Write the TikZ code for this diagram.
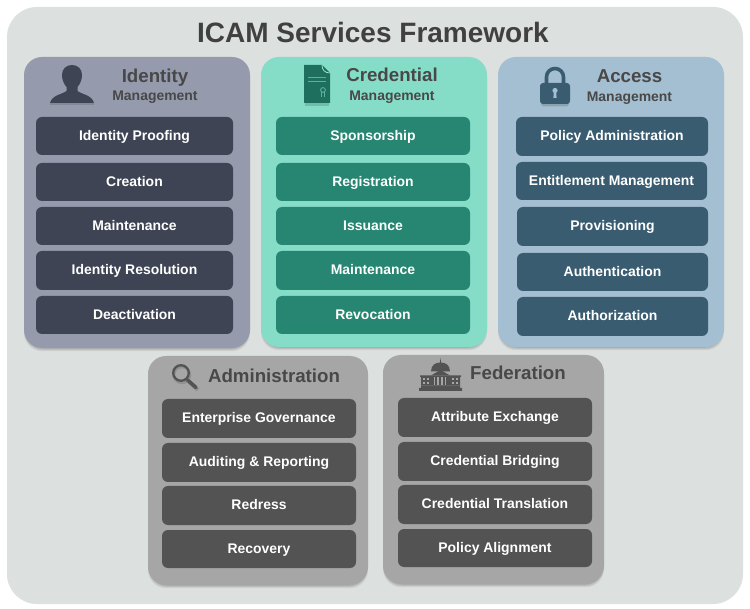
\documentclass[tikz,border=0pt]{standalone}
\usepackage{fontspec}
\setmainfont{Liberation Sans}
\definecolor{bgc}{HTML}{DCE0DF}
\definecolor{idp}{HTML}{959BAD}\definecolor{idb}{HTML}{3E4453}
\definecolor{crp}{HTML}{85DDC8}\definecolor{crb}{HTML}{268672}\definecolor{cri}{HTML}{1F6F5E}
\definecolor{acp}{HTML}{A4BFD1}\definecolor{acb}{HTML}{395C70}
\definecolor{grp}{HTML}{A6A6A6}\definecolor{grb}{HTML}{535353}
\definecolor{ttl}{HTML}{404040}\definecolor{hdg}{HTML}{484848}
\tikzset{
  x=1pt,y=-1pt,
  itembox/.style={rounded corners=6pt,draw=none,text=white,align=center,inner sep=0pt,anchor=base,
    font=\fontsize{13.95}{16}\selectfont\bfseries},
  panelbox/.style={rounded corners=18pt,draw=none,inner sep=0pt},
  headbig/.style={text=hdg,font=\fontsize{18.7}{21}\selectfont\bfseries,inner sep=0pt,anchor=base},
  headsmall/.style={text=hdg,font=\fontsize{13.95}{16}\selectfont\bfseries,inner sep=0pt,anchor=base},
}
\newcommand{\softshadow}[4]{%
  \foreach \k in {1,2,3,4}{%
    \fill[black,opacity=0.06,rounded corners=18pt] (#1+2-\k*0.5,#2+3) rectangle (#3-2+\k*0.5,#4+\k*0.8);}}
\newcommand{\panelnode}[6]{%
  \softshadow{#2}{#3}{#4}{#5}%
  \path[panelbox,fill=#6] (#2,#3) rectangle (#4,#5);
  \coordinate (#1) at ({(#2+#4)/2},{(#3+#5)/2});}
\newcommand{\itemnode}[7]{%
  \fill[itembox,fill=#6] (#2,#3) rectangle (#4,#5);
  \node[itembox] (#1) at ({(#2+#4)/2},{(#3+#5)/2+4.4}) {#7};}
\begin{document}
\begin{tikzpicture}
\useasboundingbox (0,0) rectangle (750,609);
\fill[white] (0,0) rectangle (750,609);
\fill[bgc,rounded corners=30pt] (7,7) rectangle (743,604);
\node[text=ttl,inner sep=0pt,anchor=base,font=\fontsize{28}{32}\selectfont\bfseries] (title) at (373,42.5) {ICAM Services Framework};

% Identity
\panelnode{pid}{24}{57}{250}{348}{idp}
\node[headbig] (hid) at (155,82.5) {Identity};
\node[headsmall] (hid2) at (155,100.6) {Management};
\itemnode{i1}{36}{117}{233}{155}{idb}{Identity Proofing}
\itemnode{i2}{36}{163}{233}{201}{idb}{Creation}
\itemnode{i3}{36}{207}{233}{245}{idb}{Maintenance}
\itemnode{i4}{36}{251}{233}{290}{idb}{Identity Resolution}
\itemnode{i5}{36}{296}{233}{334}{idb}{Deactivation}

% Credential
\panelnode{pcr}{261}{57}{487}{347}{crp}
\node[headbig] (hcr) at (392,82) {Credential};
\node[headsmall] (hcr2) at (392,100.6) {Management};
\itemnode{c1}{276}{117}{470}{155}{crb}{Sponsorship}
\itemnode{c2}{276}{163}{470}{201}{crb}{Registration}
\itemnode{c3}{276}{207}{470}{245}{crb}{Issuance}
\itemnode{c4}{276}{251}{470}{290}{crb}{Maintenance}
\itemnode{c5}{276}{296}{470}{334}{crb}{Revocation}

% Access
\panelnode{pac}{498}{57}{724}{347}{acp}
\node[headbig] (hac) at (629.5,83) {Access};
\node[headsmall] (hac2) at (629.5,101.6) {Management};
\itemnode{a1}{516}{117}{708}{156}{acb}{Policy Administration}
\itemnode{a2}{516}{162}{707}{200}{acb}{Entitlement Management}
\itemnode{a3}{517}{207}{708}{246}{acb}{Provisioning}
\itemnode{a4}{517}{253}{708}{291}{acb}{Authentication}
\itemnode{a5}{517}{297}{708}{336}{acb}{Authorization}

% Administration
\panelnode{pad}{148}{356}{368}{585}{grp}
\node[headbig] (had) at (274,383) {Administration};
\itemnode{d1}{162}{399}{356}{438}{grb}{Enterprise Governance}
\itemnode{d2}{162}{443}{356}{482}{grb}{Auditing \& Reporting}
\itemnode{d3}{162}{486}{356}{525}{grb}{Redress}
\itemnode{d4}{162}{530}{356}{568}{grb}{Recovery}

% Federation
\panelnode{pfe}{383}{355}{604}{584}{grp}
\node[headbig] (hfe) at (518,380) {Federation};
\itemnode{f1}{398}{398}{592}{437}{grb}{Attribute Exchange}
\itemnode{f2}{398}{442}{592}{481}{grb}{Credential Bridging}
\itemnode{f3}{398}{485}{592}{524}{grb}{Credential Translation}
\itemnode{f4}{398}{529}{592}{567}{grb}{Policy Alignment}

% Person icon
\fill[black,opacity=0.12] (50,103) rectangle (94,105.5);
\fill[idb] (72,65) .. controls (66,65) and (62,69) .. (62,75)
  .. controls (62,80) and (64,84) .. (66.5,87) -- (66.5,91)
  .. controls (62,94.5) and (52,95) .. (50,103) -- (94,103)
  .. controls (92,95) and (82,94.5) .. (77.5,91) -- (77.5,87)
  .. controls (80,84) and (82,80) .. (82,75)
  .. controls (82,69) and (78,65) .. (72,65) -- cycle;

% Document icon
\fill[black,opacity=0.15] (305,103) rectangle (329,106);
\fill[cri] (304,65) -- (322,65) -- (330,73) -- (330,103) -- (304,103) -- cycle;
\draw[crp!80!white,line width=0.8pt] (322,65) .. controls (322,70) and (325,73) .. (330,73);
\draw[crp!60!cri,line width=0.8pt] (308,77) -- (326,77) (308,81.5) -- (326,81.5);
\draw[crp!60!cri,line width=0.9pt] (323,90) circle[radius=2.4];
\draw[crp!60!cri,line width=0.9pt] (321.5,92.5) -- (321.5,97) (324.5,92.5) -- (324.5,97);

% Lock icon
\fill[black,opacity=0.15,rounded corners=3pt] (541,88) rectangle (569,106.5);
\draw[acb,line width=3.6pt] (546.5,85) -- (546.5,77) arc[start angle=180,end angle=0,x radius=8.5,y radius=-8.5] -- (563.5,85);
\fill[acb,rounded corners=3pt] (540,83) rectangle (570,104);
\fill[acp] (555,90.5) circle[radius=2.6];
\fill[acp] (553.9,91) -- (556.1,91) -- (556.6,98) -- (553.4,98) -- cycle;

% Magnifier icon
\draw[black,opacity=0.12,line width=2.5pt] (182,375) circle[radius=8];
\draw[black,opacity=0.12,line width=4pt] (189,382) -- (198,390);
\draw[grb,line width=2.3pt] (181,373) circle[radius=7.8];
\draw[grb,line width=3.6pt,line cap=round] (187.5,380) -- (196,387.5);

% Capitol icon
\fill[grb] (419,391) -- (419,388) -- (421,388) -- (421,385.5) -- (460,385.5) -- (460,388) -- (462,388) -- (462,391) -- cycle;
\fill[grb] (421,385.5) -- (421,377) -- (420,377) -- (420,375.5) -- (461,375.5) -- (461,377) -- (460,377) -- (460,385.5) -- cycle;
\fill[grb] (431,375.5) -- (440.5,370) -- (450,375.5) -- cycle;
\fill[grb] (431,371.5) .. controls (431,365) and (435.5,362.5) .. (440.5,362.5)
  .. controls (445.5,362.5) and (450,365) .. (450,371.5) -- cycle;
\fill[grb] (439.8,363) -- (440.5,358) -- (441.2,363) -- cycle;
\foreach \xx in {433.5,437,441,444.5}
  \fill[grp] (\xx,377) rectangle (\xx+1.7,385);
\foreach \xx in {423,426.5,452,455.5}{
  \fill[grp] (\xx,378) rectangle (\xx+2,380.5);
  \fill[grp] (\xx,382) rectangle (\xx+2,384.5);}
\end{tikzpicture}
\end{document}
